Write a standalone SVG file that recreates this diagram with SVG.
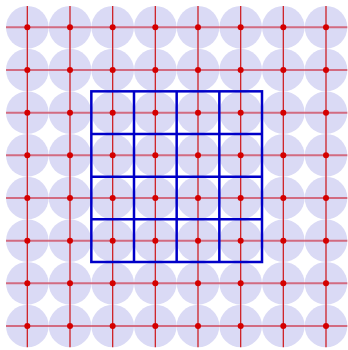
<svg xmlns="http://www.w3.org/2000/svg" width="348" height="350" viewBox="0 0 348 350">
<defs>
<style>
.c{fill:#dadaf5;stroke:none}
.v{stroke:#cc0000;stroke-width:1.3;stroke-opacity:0.85}
.h{stroke:#cc1020;stroke-width:2;stroke-opacity:0.55}
.d{fill:#d40000}
.b{fill:none;stroke:#0000c8;stroke-width:2.5}
</style>
<circle id="dot" class="d" r="3"/>
</defs>
<rect width="348" height="350" fill="#fff"/>
<g id="discs">
<g id="row0"><circle class="c" cx="27.33" cy="27.33" r="21.33"/><circle class="c" cx="70" cy="27.33" r="21.33"/><circle class="c" cx="112.67" cy="27.33" r="21.33"/><circle class="c" cx="155.33" cy="27.33" r="21.33"/><circle class="c" cx="198" cy="27.33" r="21.33"/><circle class="c" cx="240.67" cy="27.33" r="21.33"/><circle class="c" cx="283.33" cy="27.33" r="21.33"/><circle class="c" cx="326" cy="27.33" r="21.33"/></g>
<use href="#row0" y="42.667"/>
<use href="#row0" y="85.333"/>
<use href="#row0" y="128"/>
<use href="#row0" y="170.667"/>
<use href="#row0" y="213.333"/>
<use href="#row0" y="256"/>
<use href="#row0" y="298.667"/>
</g>
<g id="connectors">
<g id="horizontal">
<line class="h" x1="6" y1="27.33" x2="347.33" y2="27.33"/>
<line class="h" x1="6" y1="70" x2="347.33" y2="70"/>
<line class="h" x1="6" y1="112.67" x2="347.33" y2="112.67"/>
<line class="h" x1="6" y1="155.33" x2="347.33" y2="155.33"/>
<line class="h" x1="6" y1="198" x2="347.33" y2="198"/>
<line class="h" x1="6" y1="240.67" x2="347.33" y2="240.67"/>
<line class="h" x1="6" y1="283.33" x2="347.33" y2="283.33"/>
<line class="h" x1="6" y1="326" x2="347.33" y2="326"/>
</g>
<g id="vertical">
<line class="v" y1="6" x1="27.33" y2="347.33" x2="27.33"/>
<line class="v" y1="6" x1="70" y2="347.33" x2="70"/>
<line class="v" y1="6" x1="112.67" y2="347.33" x2="112.67"/>
<line class="v" y1="6" x1="155.33" y2="347.33" x2="155.33"/>
<line class="v" y1="6" x1="198" y2="347.33" x2="198"/>
<line class="v" y1="6" x1="240.67" y2="347.33" x2="240.67"/>
<line class="v" y1="6" x1="283.33" y2="347.33" x2="283.33"/>
<line class="v" y1="6" x1="326" y2="347.33" x2="326"/>
</g>
</g>
<g id="nodes">
<g id="drow0"><use href="#dot" x="27.33" y="27.33"/><use href="#dot" x="70" y="27.33"/><use href="#dot" x="112.67" y="27.33"/><use href="#dot" x="155.33" y="27.33"/><use href="#dot" x="198" y="27.33"/><use href="#dot" x="240.67" y="27.33"/><use href="#dot" x="283.33" y="27.33"/><use href="#dot" x="326" y="27.33"/></g>
<use href="#drow0" y="42.667"/>
<use href="#drow0" y="85.333"/>
<use href="#drow0" y="128"/>
<use href="#drow0" y="170.667"/>
<use href="#drow0" y="213.333"/>
<use href="#drow0" y="256"/>
<use href="#drow0" y="298.667"/>
</g>
<g id="blue-grid">
<rect class="b" x="91.33" y="91.33" width="170.67" height="170.67"/>
<path class="b" d="M134 91.33V262M176.67 91.33V262M219.33 91.33V262M91.33 134H262M91.33 176.67H262M91.33 219.33H262"/>
</g>
</svg>
